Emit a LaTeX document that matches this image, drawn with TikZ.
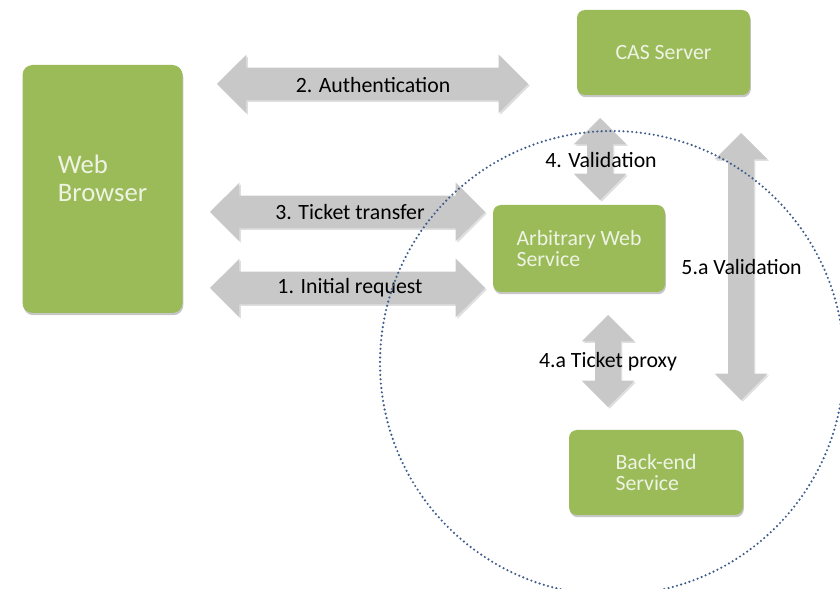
\documentclass[tikz,border=0pt]{standalone}
\usepackage{fontspec}
\setmainfont{Carlito}
\usetikzlibrary{shapes.arrows,shadows}
\definecolor{boxgreen}{RGB}{155,187,89}
\definecolor{boxtext}{RGB}{238,243,228}
\definecolor{arrowgray}{RGB}{200,200,200}
\definecolor{zoneblue}{RGB}{62,92,140}

\begin{document}
\begin{tikzpicture}[
        service box/.style={rectangle, rounded corners=0.2cm, fill=boxgreen, text=boxtext, align=left, font=\fontsize{15.5}{15.6}\selectfont, drop shadow={shadow xshift=0.6pt, shadow yshift=-1.6pt, opacity=0.45}},
        flow arrow/.style={double arrow, fill=arrowgray, inner xsep=0pt, inner ysep=0.4cm, double arrow head extend=0.325cm, drop shadow={shadow xshift=1.2pt, shadow yshift=-1.2pt, opacity=0.25}},
        thin arrow/.style={flow arrow, rotate=90, inner ysep=0.3125cm, double arrow head extend=0.3375cm},
        flow label/.style={font=\fontsize{15.5}{16}\selectfont, anchor=center},
        trust zone/.style={circle, draw=zoneblue, line width=1.7pt, line cap=round, dash pattern=on 0pt off 3.1pt}
    ]
	\useasboundingbox (0,0) rectangle (21,-14.725);
	% services
	\node[service box, minimum width=4.0cm, minimum height=6.2cm, rounded corners=0.25cm, text depth=0.55cm, font=\fontsize{19}{20}\selectfont] (browser) at (2.5625,-4.725) {Web\\Browser};
	\node[service box, minimum width=4.325cm, minimum height=2.125cm] (cas) at (16.5875,-1.3125) {CAS Server};
	\node[service box, minimum width=4.3cm, minimum height=2.175cm] (aws) at (14.475,-6.2125) {Arbitrary Web\\Service};
	\node[service box, minimum width=4.35cm, minimum height=2.125cm] (backend) at (16.4,-11.8125) {Back-end\\Service};
	% block arrows
	\node[flow arrow, minimum height=7.775cm] (auth) at (9.3125,-2.1) {};
	\node[flow arrow, minimum height=6.875cm] (ticket) at (8.6875,-5.3) {};
	\node[flow arrow, minimum height=6.875cm] (request) at (8.6875,-7.2) {};
	\node[thin arrow, minimum height=2.05cm] (valid) at (15.0,-3.975) {};
	\node[thin arrow, minimum height=2.3cm] (proxy) at (15.2,-9.025) {};
	\node[thin arrow, minimum height=6.675cm] (valid_a) at (18.525,-6.6625) {};
	% labels
	\node[flow label] (auth_l) at (9.325,-2.125) {2. Authentication};
	\node[flow label] (ticket_l) at (8.75,-5.3) {3. Ticket transfer};
	\node[flow label] (request_l) at (8.75,-7.2) {1. Initial request};
	\node[flow label] (valid_l) at (15.025,-4.0) {4. Validation};
	\node[flow label] (valid_a_l) at (18.54,-6.675) {5.a Validation};
	\node[flow label] (proxy_l) at (15.2,-9.05) {4.a Ticket proxy};
	% trust zone
	\begin{scope}
		\clip (0,0) rectangle (21,-14.725);
		\node[trust zone, minimum size=11.6cm] (zone) at (15.3,-9.075) {};
	\end{scope}
\end{tikzpicture}
\end{document}
